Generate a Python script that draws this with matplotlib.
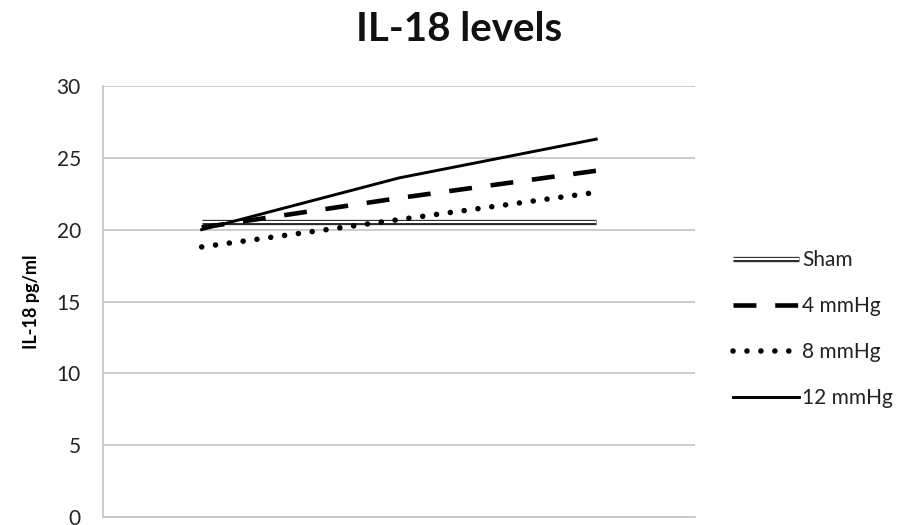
import matplotlib
matplotlib.use("Agg")
import matplotlib.pyplot as plt
import matplotlib.patheffects as pe

plt.rcParams['font.family'] = ['Lato', 'DejaVu Sans']

categories = ['T1', 'T2', 'T3']
series_names = ['Sham', '4 mmHg', '8 mmHg', '12 mmHg']
sham = [20.5, 20.5, 20.5]
mm4 = [20.15, 22.2, 24.1]
mm8 = [18.8, 20.7, 22.6]
mm12 = [20.0, 23.6, 26.3]
yticks = [0, 5, 10, 15, 20, 25, 30]

fig = plt.figure(figsize=(9.07, 5.25), dpi=100)
ax = fig.add_axes([0.1136, 0.0152, 0.6525, 0.821])

x = list(range(len(categories)))

ax.plot(x, sham, color='white', lw=1.5, solid_capstyle='butt',
        path_effects=[pe.Stroke(linewidth=3.8, foreground='#2a2a2a'), pe.Normal()],
        label=series_names[0], zorder=3)
ax.plot(x, mm4, color='black', lw=3.3, linestyle=(0, (5.0, 4.1)),
        dash_capstyle='butt', label=series_names[1], zorder=4)
ax.plot(x, mm8, color='black', lw=4.0, linestyle=(0, (0.01, 2.5)),
        dash_capstyle='round', label=series_names[2], zorder=4)
ax.plot(x, mm12, color='black', lw=2.1, label=series_names[3], zorder=5)

ax.set_xlim(-0.5, 2.5)
ax.set_ylim(0, 30)
ax.set_yticks(yticks)
ax.set_xticks([])
ax.yaxis.grid(True, color='#c8c8c8', lw=1.3)
ax.set_axisbelow(True)
ax.tick_params(axis='y', length=0, pad=16, labelsize=15, labelcolor='#222222')
for s in ['top', 'right']:
    ax.spines[s].set_visible(False)
ax.spines['left'].set_color('#c8c8c8')
ax.spines['left'].set_linewidth(1.3)
ax.spines['bottom'].set_color('#c8c8c8')
ax.spines['bottom'].set_linewidth(1.3)

ax.set_ylabel('IL-18 pg/ml', fontsize=13, fontweight='bold', labelpad=12)

fig.text(0.506, 0.943, 'IL-18 levels', ha='center', va='center',
         fontsize=29, fontweight='bold', color='#111111')

leg = fig.legend(loc='center left', bbox_to_anchor=(0.787, 0.373),
                 frameon=False, fontsize=15, handlelength=3.2,
                 handletextpad=0.15, labelspacing=1.25)
for t in leg.get_texts():
    t.set_color('#222222')

fig.savefig('out.png', dpi=100)
